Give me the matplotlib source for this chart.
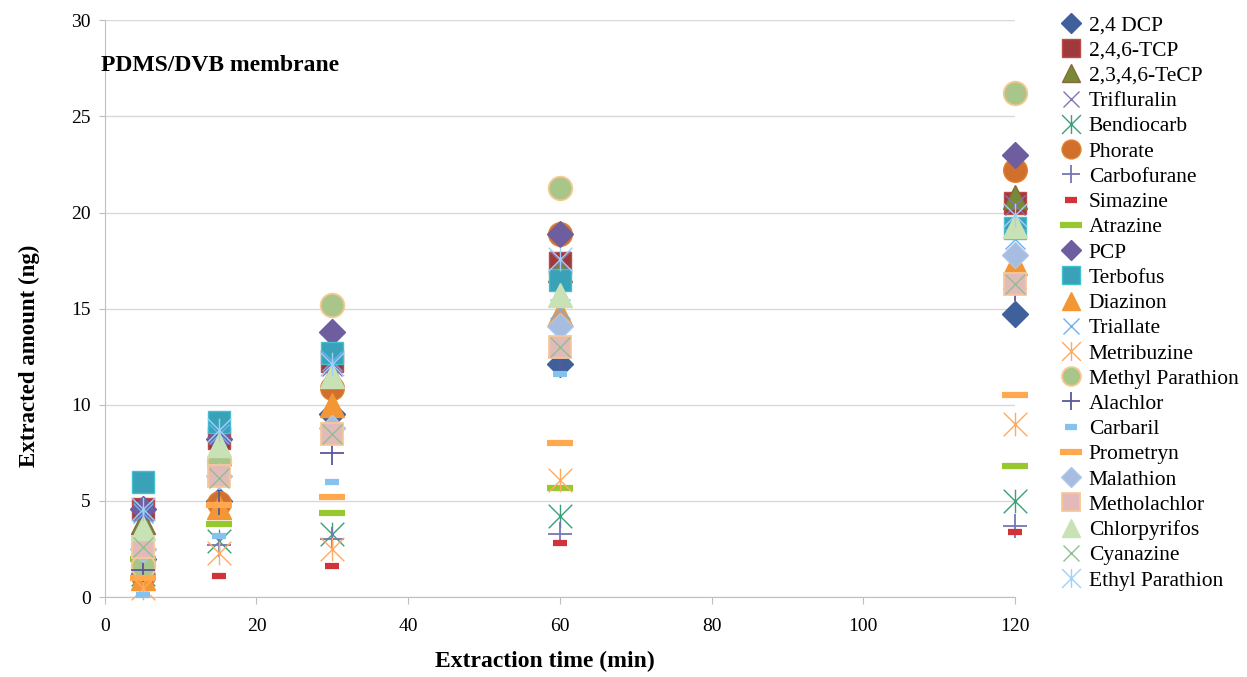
#!/usr/bin/env python3
"""
Extracted amount vs extraction time, PDMS/DVB membrane
"""

import matplotlib
matplotlib.use('Agg')
import matplotlib.pyplot as plt
from matplotlib.path import Path

# extraction times (min)
times = [5, 15, 30, 60, 120]

# extracted amounts (ng), one list per compound
dcp_24 = [2.0, 5.0, 9.5, 12.1, 14.7]
tcp_246 = [4.6, 8.3, 12.3, 17.4, 20.5]
tecp_2346 = [3.9, 7.5, 11.5, 17.0, 20.8]
trifluralin = [4.5, 8.6, 12.0, 17.5, 20.4]
bendiocarb = [1.2, 2.9, 3.3, 4.2, 5.0]
phorate = [1.1, 4.9, 10.9, 18.9, 22.2]
carbofurane = [1.2, 2.7, 3.0, 3.3, 3.7]
simazine = [0.5, 1.1, 1.6, 2.8, 3.4]
atrazine = [2.0, 3.8, 4.4, 5.7, 6.8]
pcp = [4.6, 8.2, 13.8, 18.9, 23.0]
terbofus = [6.0, 9.1, 12.7, 16.5, 19.2]
diazinon = [1.0, 4.7, 10.0, 14.8, 17.4]
triallate = [4.4, 8.5, 12.3, 15.0, 18.6]
metribuzine = [0.5, 2.3, 2.5, 6.1, 9.0]
methyl_parathion = [1.6, 7.1, 15.2, 21.3, 26.2]
alachlor = [1.4, 4.9, 7.5, 12.5, 16.0]
carbaril = [0.1, 3.2, 6.0, 11.6, 19.0]
prometryn = [1.0, 4.8, 5.2, 8.0, 10.5]
malathion = [2.5, 6.3, 8.8, 14.1, 17.8]
metholachlor = [2.6, 6.3, 8.5, 13.0, 16.3]
chlorpyrifos = [3.6, 7.9, 11.5, 15.7, 19.3]
cyanazine = [2.6, 6.2, 8.5, 13.0, 16.3]
ethyl_parathion = [4.6, 8.7, 12.1, 17.6, 19.9]

# excel-like "star" marker: an X with a vertical bar
STAR = Path([(-1, -1), (1, 1), (-1, 1), (1, -1), (0, -1), (0, 1)],
            [Path.MOVETO, Path.LINETO, Path.MOVETO, Path.LINETO,
             Path.MOVETO, Path.LINETO])

# (label, values, marker, size, face, edge, edge width)
series = [
    ('2,4 DCP', dcp_24, 'D', 13, '#40609c', '#40609c', 1),
    ('2,4,6-TCP', tcp_246, 's', 16, '#9e3a3c', '#c04a4a', 1),
    ('2,3,4,6-TeCP', tecp_2346, '^', 17, '#768a38', '#8a6a3a', 1),
    ('Trifluralin', trifluralin, 'x', 15, 'none', '#8474b0', 1),
    ('Bendiocarb', bendiocarb, STAR, 17, 'none', '#3aa07a', 1),
    ('Phorate', phorate, 'o', 17, '#d0702c', '#e08030', 1),
    ('Carbofurane', carbofurane, '+', 17, 'none', '#7676b4', 1.3),
    ('Simazine', simazine, '_', 10, 'none', '#d0343a', 4.5),
    ('Atrazine', atrazine, '_', 19, 'none', '#98c830', 4.5),
    ('PCP', pcp, 'D', 13, '#6e5ea0', '#6e5ea0', 1),
    ('Terbofus', terbofus, 's', 16, '#3aa2b8', '#40c0d0', 1),
    ('Diazinon', diazinon, '^', 17, '#f39634', '#f39634', 1),
    ('Triallate', triallate, 'x', 15, 'none', '#70b0f0', 1),
    ('Metribuzine', metribuzine, STAR, 17, 'none', '#ffaa60', 1),
    ('Methyl Parathion', methyl_parathion, 'o', 17, '#a8c68a', '#f8c890', 1.3),
    ('Alachlor', alachlor, '+', 17, 'none', '#58589a', 1.3),
    ('Carbaril', carbaril, '_', 10, 'none', '#86c2f0', 4.5),
    ('Prometryn', prometryn, '_', 19, 'none', '#ffa850', 4.5),
    ('Malathion', malathion, 'D', 13, '#a6bce0', '#b0c8e8', 1),
    ('Metholachlor', metholachlor, 's', 16, '#e2baba', '#f8c898', 1.3),
    ('Chlorpyrifos', chlorpyrifos, '^', 17, '#c8e2b6', '#c8e2b6', 1),
    ('Cyanazine', cyanazine, 'x', 15, 'none', '#90c090', 1),
    ('Ethyl Parathion', ethyl_parathion, STAR, 17, 'none', '#a0d0f8', 1),
]

plt.rcParams['font.family'] = ['Liberation Serif', 'DejaVu Serif']

fig = plt.figure(figsize=(12.47, 6.77), dpi=100)
ax = fig.add_axes([0.084, 0.118, 0.73, 0.852])

for label, vals, mk, ms, fc, ec, mew in series:
    ax.plot(times, vals, linestyle='none', marker=mk, markersize=ms,
            markerfacecolor=fc, markeredgecolor=ec, markeredgewidth=mew,
            label=label, clip_on=False, zorder=3)

ax.set_xlim(0, 120)
ax.set_ylim(0, 30)
ax.set_xticks(range(0, 121, 20))
ax.set_yticks(range(0, 31, 5))
ax.grid(axis='y', color='#d9d9d9', linewidth=1)
ax.set_axisbelow(True)

for side in ['top', 'right']:
    ax.spines[side].set_visible(False)
for side in ['left', 'bottom']:
    ax.spines[side].set_color('#bfbfbf')
ax.tick_params(axis='y', length=4, color='#bfbfbf', labelsize=14, pad=6)
ax.tick_params(axis='x', length=5, color='#bfbfbf', labelsize=14, pad=10)

ax.set_xlabel('Extraction time (min)', fontsize=17, fontweight='bold')
ax.xaxis.set_label_coords(0.4835, -0.094)
ax.set_ylabel('Extracted amount (ng)', fontsize=16.5, fontweight='bold')
ax.yaxis.set_label_coords(-0.071, 0.419)
ax.text(-0.5, 27.65, 'PDMS/DVB membrane', fontsize=17, fontweight='bold',
        va='center', ha='left')

fig.legend(loc='upper left', bbox_to_anchor=(0.8433, 0.99), frameon=False,
           fontsize=15.5, labelspacing=0.24, handlelength=1.0, handletextpad=0.33,
           borderaxespad=0, numpoints=1, markerscale=0.8)

plt.savefig('out.png', dpi=100)
plt.close()
